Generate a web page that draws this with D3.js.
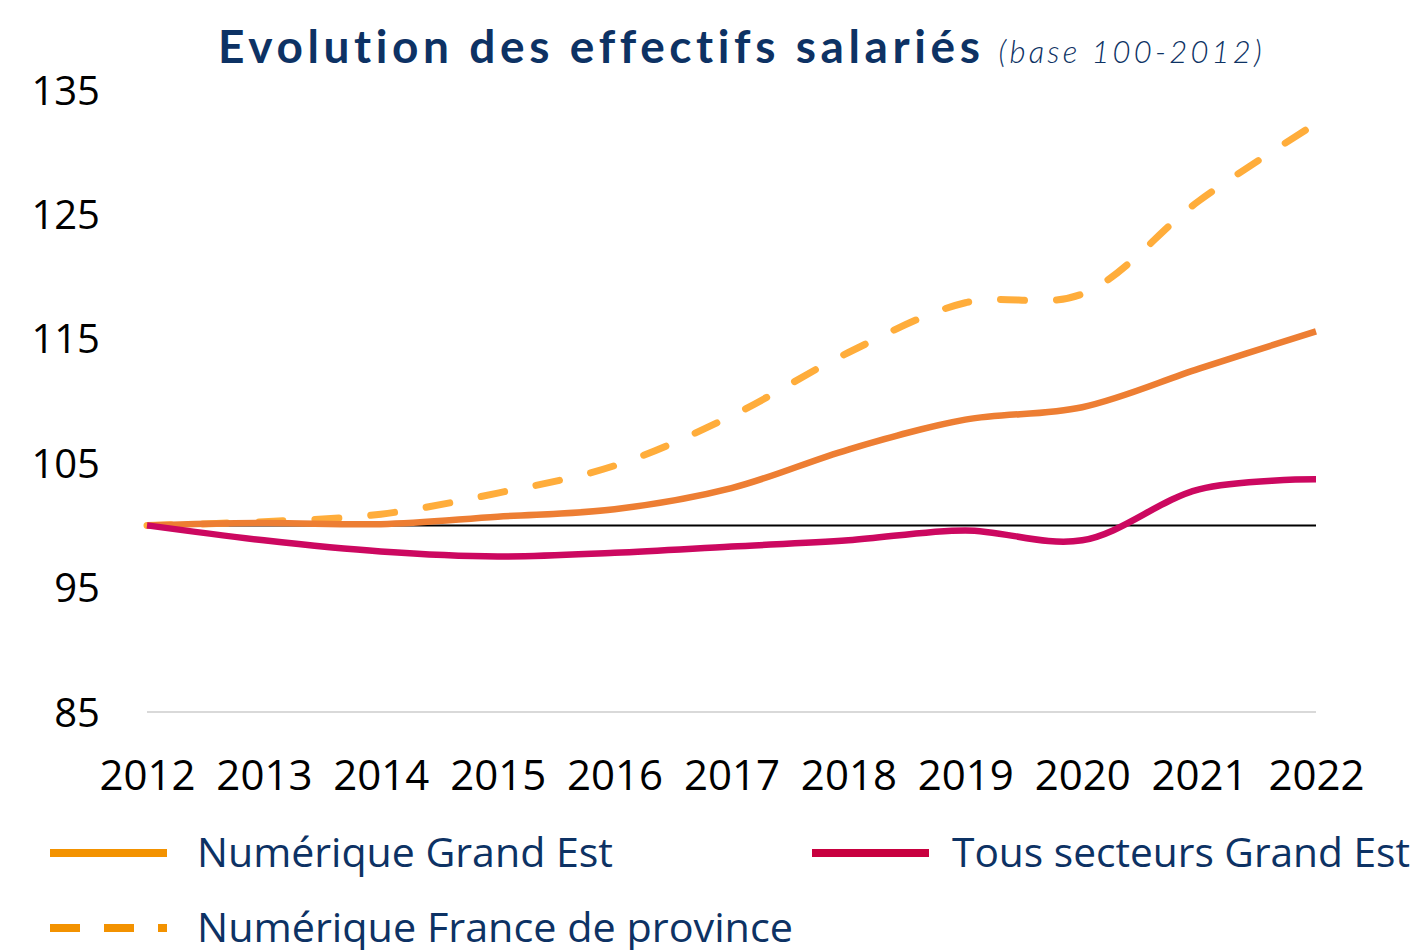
<!DOCTYPE html>
<html>
<head>
<meta charset="utf-8">
<script src="https://cdn.jsdelivr.net/npm/d3@7"></script>
<style>
  body { margin: 0; background: #fff; }
  svg { display: block; }
</style>
</head>
<body>
<div id="chart"></div>
<script>
const years = [2012, 2013, 2014, 2015, 2016, 2017, 2018, 2019, 2020, 2021, 2022];
const numeriqueGE = [100, 100.2, 100.1, 100.7, 101.3, 103.0, 106.1, 108.5, 109.5, 112.6, 115.6];
const numeriqueProvince = [100, 100.3, 100.9, 102.6, 104.8, 108.8, 113.9, 117.9, 118.6, 126.1, 132.3];
const tousSecteursGE = [100, 98.8, 97.9, 97.5, 97.8, 98.3, 98.8, 99.6, 98.8, 102.9, 103.7];
const yTicks = [85, 95, 105, 115, 125, 135];

const width = 1420, height = 950;
const navy = "#0d3264";

const svg = d3.select("#chart").append("svg")
  .attr("width", width)
  .attr("height", height);

const x = d3.scaleLinear().domain([2012, 2022]).range([147, 1316]);
const y = d3.scaleLinear().domain([85, 135]).range([712, 90]);

// title
const title = svg.append("text")
  .attr("x", 218)
  .attr("y", 63)
  .style("font-family", "Lato, 'Open Sans', sans-serif")
  .style("fill", navy);
title.append("tspan")
  .style("font-size", "46px")
  .style("font-weight", "bold")
  .style("letter-spacing", "4.6px")
  .text("Evolution des effectifs salariés");
title.append("tspan")
  .attr("dx", 14)
  .style("font-size", "31px")
  .style("font-style", "italic")
  .style("font-weight", 300)
  .style("letter-spacing", "3.2px")
  .text("(base 100-2012)");

// y axis labels (no axis line)
const yAxis = d3.axisLeft(y).tickValues(yTicks).tickSize(0).tickPadding(0);
svg.append("g")
  .attr("transform", "translate(100,0)")
  .call(yAxis)
  .call(g => g.select(".domain").remove())
  .selectAll("text")
  .style("font-family", "'Open Sans', sans-serif")
  .style("font-size", "40px")
  .style("fill", "#000")
  .attr("dy", "0.35em");

// bottom baseline
svg.append("line")
  .attr("x1", x(2012)).attr("x2", x(2022))
  .attr("y1", y(85)).attr("y2", y(85))
  .attr("stroke", "#d9d9d9")
  .attr("stroke-width", 2);

// x axis labels
const xAxis = d3.axisBottom(x).tickValues(years).tickFormat(d3.format("d")).tickSize(0).tickPadding(0);
svg.append("g")
  .attr("transform", `translate(0,${y(85)})`)
  .call(xAxis)
  .call(g => g.select(".domain").remove())
  .selectAll("text")
  .attr("y", 63)
  .attr("dy", "0.35em")
  .style("font-family", "'Open Sans', sans-serif")
  .style("font-size", "42px")
  .style("fill", "#000");

// reference line at 100
svg.append("line")
  .attr("x1", x(2012)).attr("x2", x(2022))
  .attr("y1", y(100)).attr("y2", y(100))
  .attr("stroke", "#000")
  .attr("stroke-width", 2);

const line = d3.line()
  .x((d, i) => x(years[i]))
  .y(d => y(d))
  .curve(d3.curveCatmullRom.alpha(0.5));

svg.append("path")
  .attr("d", line(numeriqueProvince))
  .attr("fill", "none")
  .attr("stroke", "#ffad3b")
  .attr("stroke-width", 7)
  .attr("stroke-linecap", "round")
  .attr("stroke-dasharray", "24,32");

svg.append("path")
  .attr("d", line(numeriqueGE))
  .attr("fill", "none")
  .attr("stroke", "#ed7e33")
  .attr("stroke-width", 6.5);

svg.append("path")
  .attr("d", line(tousSecteursGE))
  .attr("fill", "none")
  .attr("stroke", "#cc0860")
  .attr("stroke-width", 6.5);

// legend
const legendItems = [
  { label: "Numérique Grand Est", color: "#f39200", dash: null, x: 50, y: 853, w: 416 },
  { label: "Tous secteurs Grand Est", color: "#c8003f", dash: null, x: 812, y: 853, w: 458 },
  { label: "Numérique France de province", color: "#f39200", dash: "30,24", x: 50, y: 928, w: 596 }
];
const lg = svg.append("g").selectAll("g").data(legendItems).enter().append("g")
  .attr("transform", d => `translate(${d.x},${d.y})`);
lg.append("line")
  .attr("x1", 0).attr("x2", 117)
  .attr("y1", 0).attr("y2", 0)
  .attr("stroke", d => d.color)
  .attr("stroke-width", 8)
  .attr("stroke-dasharray", d => d.dash);
lg.append("text")
  .attr("x", d => d.x === 50 ? 147 : 140)
  .attr("y", 0)
  .attr("dy", "0.35em")
  .attr("textLength", d => d.w)
  .attr("lengthAdjust", "spacingAndGlyphs")
  .style("font-family", "'Open Sans', sans-serif")
  .style("font-size", "41px")
  .style("fill", navy)
  .text(d => d.label);
</script>
</body>
</html>
